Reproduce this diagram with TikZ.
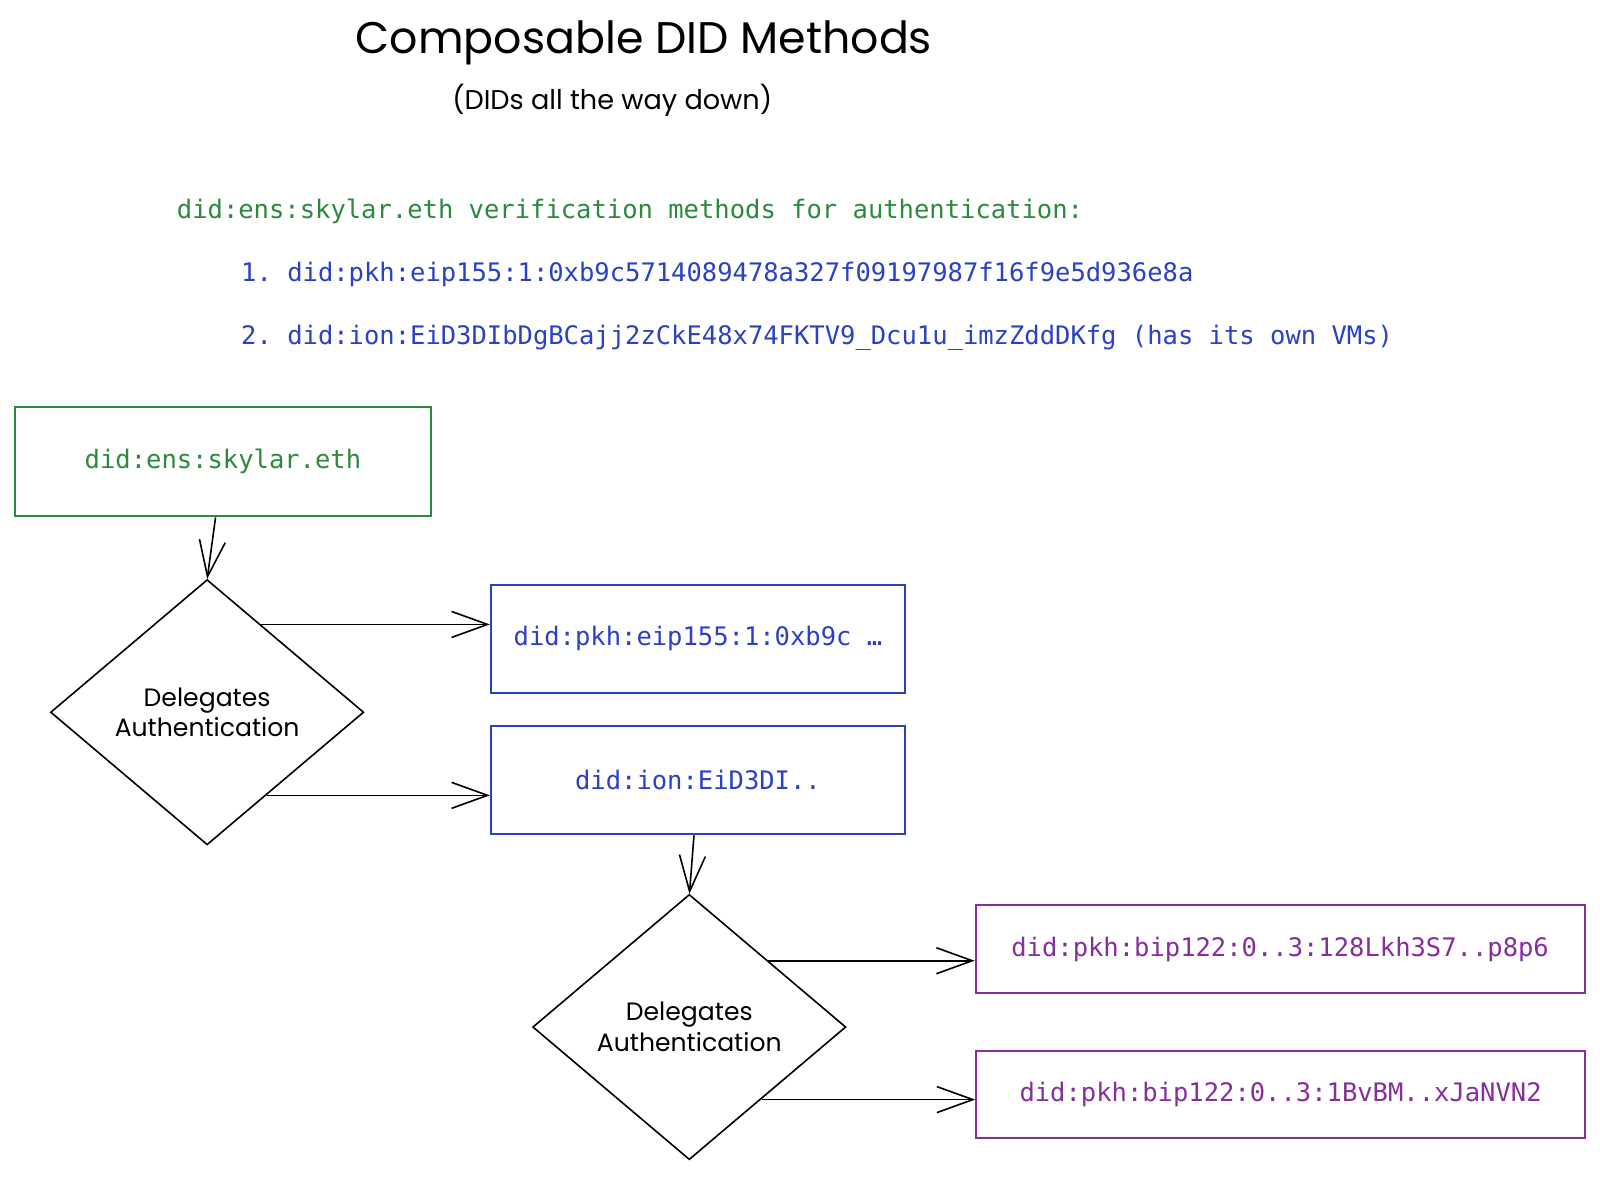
\documentclass[tikz,border=0pt]{standalone}
\usepackage{fontspec}
\setmonofont{DejaVu Sans Mono}
\newfontfamily\handfont{Poppins}
\usepackage{xcolor}
\usepackage{tikz}
\usetikzlibrary{positioning, shapes, calc, arrows.meta}

\definecolor{ensgreen}{HTML}{2B8A3E}
\definecolor{vmblue}{HTML}{2A41C6}
\definecolor{btcpurple}{HTML}{862E9C}

\begin{document}
\begin{tikzpicture}[x=0.5pt, y=-0.5pt, scale=1.0204, every node/.style={transform shape},
	didbox/.style={draw, rectangle, line width=1pt, inner sep=0pt, font=\ttfamily\fontsize{12.5}{14}\selectfont},
	deleg/.style={draw, diamond, line width=0.8pt, inner sep=0pt, minimum width=153.5pt, minimum height=130pt, align=center, font=\handfont\fontsize{12.3}{15}\selectfont},
	vmline/.style={anchor=west, inner sep=0pt, font=\ttfamily\fontsize{12.5}{14}\selectfont},
	link/.style={-{Straight Barb[length=18pt, width=13pt]}, line width=0.8pt}]
	
	\fill[white] (0,0) rectangle (1568,1152.5);
	\useasboundingbox (0,0) rectangle (1568,1152.5);
	
	\node[font=\handfont\fontsize{21.7}{26}\selectfont] (title) at (631,42) {Composable DID Methods};
	\node[font=\handfont\fontsize{13.3}{16}\selectfont] (subtitle) at (600,98) {(DIDs all the way down)};
	
	\node[vmline, text=ensgreen] (vmhead) at (173,207) {did:ens:skylar.eth verification methods for authentication:};
	\node[vmline, text=vmblue] (vm1) at (236,269) {1. did:pkh:eip155:1:0xb9c5714089478a327f09197987f16f9e5d936e8a};
	\node[vmline, text=vmblue] (vm2) at (236,331) {2. did:ion:EiD3DIbDgBCajj2zCkE48x74FKTV9\_Dcu1u\_imzZddDKfg (has its own VMs)};
	
	\node[didbox, color=ensgreen, minimum width=203.5pt, minimum height=53.5pt] (ens) at (218.5,452.5) {did:ens:skylar.eth};
	\node[deleg] (d1) at (203,698) {Delegates\\Authentication};
	\node[didbox, color=vmblue, minimum width=203pt, minimum height=53pt] (pkh) at (684,626) {did:pkh:eip155:1:0xb9c …};
	\node[didbox, color=vmblue, minimum width=203pt, minimum height=53pt] (ion) at (684,764.5) {did:ion:EiD3DI..};
	\node[deleg] (d2) at (675.5,1006.5) {Delegates\\Authentication};
	\node[didbox, color=btcpurple, minimum width=298.5pt, minimum height=43pt] (btc1) at (1254.5,930) {did:pkh:bip122:0..3:128Lkh3S7..p8p6};
	\node[didbox, color=btcpurple, minimum width=298.5pt, minimum height=43pt] (btc2) at (1255,1072.5) {did:pkh:bip122:0..3:1BvBM..xJaNVN2};
	
	\coordinate (d1up) at ($(d1.north)!0.34!(d1.east)$);
	\coordinate (d1lo) at ($(d1.east)!0.62!(d1.south)$);
	\coordinate (d2up) at ($(d2.north)!0.5!(d2.east)$);
	\coordinate (d2lo) at ($(d2.east)!0.54!(d2.south)$);
	
	\draw[link] (ens) -- (d1.north);
	\draw[link] (d1up) -- (d1up -| pkh.west);
	\draw[link] (d1lo) -- (d1lo -| ion.west);
	\draw[link] (ion) -- (d2.north);
	\draw[link] (d2up) -- (d2up -| btc1.west);
	\draw[link] (d2lo) -- (d2lo -| btc2.west);
\end{tikzpicture}
\end{document}
